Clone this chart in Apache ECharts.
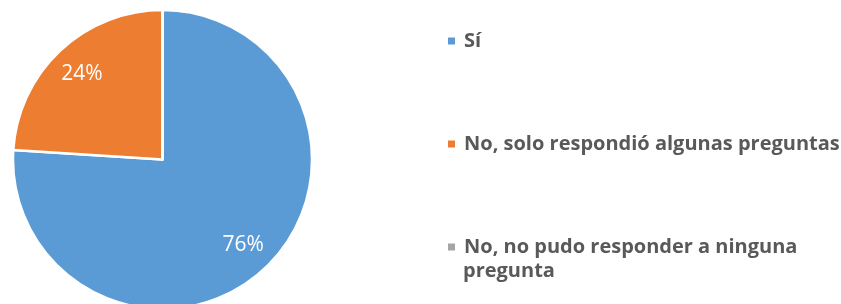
<!DOCTYPE html>
<html>
<head>
<meta charset="utf-8">
<script src="https://cdn.jsdelivr.net/npm/echarts@6/dist/echarts.min.js"></script>
<style>
html,body{margin:0;padding:0;background:#fff;}
#chart{width:841px;height:304px;}
</style>
</head>
<body>
<div id="chart"></div>
<script>
var categories = ['Sí', 'No, solo respondió algunas preguntas', 'No, no pudo responder a ninguna pregunta'];
var values = [76, 24, 0];
var colors = ['#5B9BD5', '#ED7D31', '#A5A5A5'];

var data = categories.map(function (c, i) {
  return { name: c, value: values[i], itemStyle: { color: colors[i] } };
});
var labelData = categories.map(function (c, i) {
  return { name: c, value: values[i] };
});

var chart = echarts.init(document.getElementById('chart'));
chart.setOption({
  animation: false,
  backgroundColor: '#fff',
  legend: {
    orient: 'vertical',
    left: 446,
    top: 28.5,
    padding: 0,
    itemWidth: 9,
    itemHeight: 9,
    itemGap: 78,
    icon: 'rect',
    selectedMode: false,
    data: categories,
    formatter: function (name) {
      return name === categories[2] ? 'No, no pudo responder a ninguna' : name;
    },
    textStyle: {
      fontFamily: 'Open Sans',
      fontWeight: 'bold',
      fontSize: 20,
      color: '#595959',
      lineHeight: 25,
      padding: [0, 0, 0, 3]
    }
  },
  graphic: [{
    type: 'text',
    left: 463,
    top: 258.5,
    style: {
      text: 'pregunta',
      font: 'bold 20px "Open Sans"',
      fill: '#595959',
      lineHeight: 25
    }
  }],
  series: [{
    type: 'pie',
    center: [162.5, 159.5],
    radius: [0, 149.5],
    startAngle: 90,
    clockwise: true,
    silent: true,
    label: { show: false },
    labelLine: { show: false },
    itemStyle: { borderColor: '#fff', borderWidth: 2.5 },
    data: data
  }, {
    type: 'pie',
    center: [162.5, 159.5],
    radius: [80, 149.5],
    startAngle: 90,
    clockwise: true,
    silent: true,
    itemStyle: { color: 'rgba(0,0,0,0)', borderWidth: 0 },
    label: {
      show: true,
      position: 'inside',
      color: '#fff',
      fontFamily: 'Open Sans',
      fontSize: 21,
      formatter: function (p) { return p.value > 0 ? p.value + '%' : ''; }
    },
    labelLine: { show: false },
    data: labelData
  }]
});
</script>
</body>
</html>
